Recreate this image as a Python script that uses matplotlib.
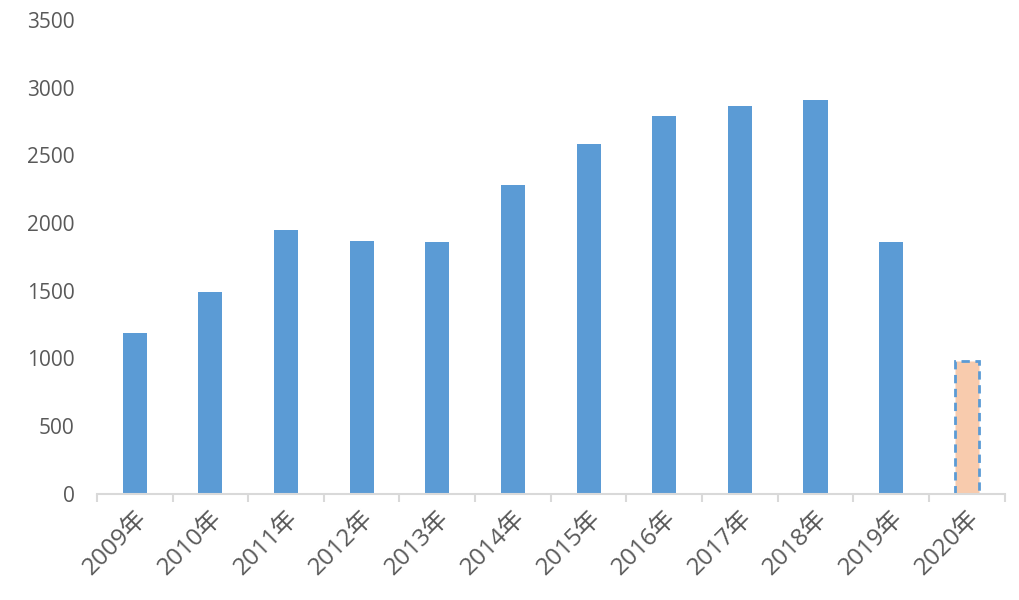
import matplotlib.pyplot as plt
import numpy as np

plt.rcParams['font.family'] = ['Open Sans', 'Noto Sans CJK SC']

years = ['2009年', '2010年', '2011年', '2012年', '2013年', '2014年',
         '2015年', '2016年', '2017年', '2018年', '2019年', '2020年']
values = [1190, 1490, 1950, 1870, 1860, 2280, 2580, 2790, 2860, 2910, 1860, 980]

blue = '#5B9BD5'
x = np.arange(len(years))

fig = plt.figure(figsize=(10.2, 6), dpi=100)
ax = fig.add_axes([0.095, 0.177, 0.89, 0.79])

ax.bar(x[:-1], values[:-1], width=0.32, color=blue)
ax.bar(x[-1], values[-1], width=0.32, color='#F8CBAD',
       edgecolor=blue, linestyle=(0, (3, 2)), linewidth=2)

ax.set_xlim(-0.5, len(years) - 0.5)
ax.set_ylim(0, 3500)
ax.set_yticks(np.arange(0, 3501, 500))

for s in ['top', 'right', 'left']:
    ax.spines[s].set_visible(False)
ax.spines['bottom'].set_color('#D9D9D9')
ax.spines['bottom'].set_linewidth(1.5)

ax.set_xticks(x)
ax.set_xticklabels(years, rotation=45, ha='right', rotation_mode='anchor')
ax.set_xticks(np.arange(-0.5, len(years)), minor=True)
ax.tick_params(axis='x', which='major', length=0, pad=9, labelsize=17.5, labelcolor='#595959')
ax.tick_params(axis='x', which='minor', length=6, width=1.5, color='#D9D9D9')
ax.tick_params(axis='y', length=0, pad=16, labelsize=15, labelcolor='#595959')

fig.savefig('out.png', dpi=100)
